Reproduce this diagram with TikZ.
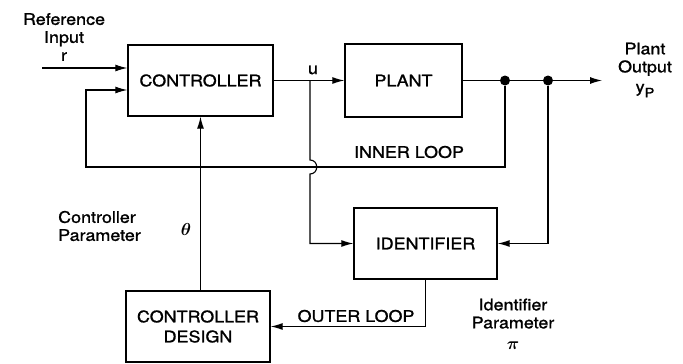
\documentclass[tikz,border=0pt]{standalone}
\usepackage{amsmath}
\usepackage{fontspec}
\setmainfont[FakeStretch=1.12, FakeBold=1.2]{TeX Gyre Heros}
\usepackage{tikz}
\usetikzlibrary{arrows.meta, calc}

\tikzset{
  block/.style={draw, line width=1.4pt, minimum height=71pt, inner sep=2pt,
    font=\fontsize{16}{20}\selectfont},
  sig/.style={line width=1.1pt, -{Latex[length=12pt,width=7pt]}},
  lbl/.style={font=\fontsize{16}{18}\selectfont, inner sep=1pt},
  junct/.style={circle, fill, inner sep=0pt, minimum size=10pt},
}

\begin{document}
\begin{tikzpicture}[x=1pt, y=-1pt]
    \useasboundingbox (0,0) rectangle (683,364);

    % Blocks
    \node[block, minimum width=145pt] (ctrl) at (200.5,80.5) {CONTROLLER};
    \node[block, minimum width=117pt, minimum height=73pt] (plant) at (403.5,80.5) {PLANT};
    \node[block, minimum width=143pt] (ident) at (425.5,243.5) {IDENTIFIER};
    \node[block, minimum width=144pt, align=center] (design) at (198,326.5) {CONTROLLER\\DESIGN};

    % Junctions and free ends
    \node[junct] (j1) at (505,80.5) {};
    \node[junct] (j2) at (548,80.5) {};
    \coordinate (yout) at (602,80.5);
    \coordinate (rin) at (42,68);
    \coordinate (fbin) at (86,90);
    \coordinate (fbl) at (86,167);
    \coordinate (ub) at (310,80.5);

    % Forward path
    \draw[sig] (rin) -- (rin -| ctrl.west);
    \draw[sig] (ctrl.east) -- (plant.west);
    \draw[sig] (plant.east) -- (yout);

    % Inner loop
    \draw[sig] (j1) |- (fbl) |- (fbin -| ctrl.west);

    % u to identifier, hopping over the inner loop
    \draw[sig] (ub) -- ($(ub |- fbl)+(0,-7)$)
        .. controls +(9,0) and +(9,0) .. ($(ub |- fbl)+(0,7)$) |- (ident.west);
    \draw[sig] (j2) |- (ident.east);

    % Outer loop
    \draw[sig] (ident.south) |- (design.east);
    \draw[sig] (design.north -| ctrl.south) -- (ctrl.south);

    % Labels
    \node[lbl, align=center] (refin) at (64,37) {Reference\\Input\\r};
    \node[lbl, align=center] (pout) at (645,70)
        {Plant\\Output\\[2pt]y\raisebox{-5pt}{\fontsize{13}{13}\selectfont P}};
    \node[lbl] (ulbl) at (313,70) {u};
    \node[lbl] (inner) at (409,152) {INNER LOOP};
    \node[lbl] (outer) at (356,316) {OUTER LOOP};
    \node[lbl, align=left, anchor=west] (cpar) at (57,226) {Controller\\Parameter};
    \node[lbl] (theta) at (186,229) {$\boldsymbol{\theta}$};
    \node[lbl, align=center] (ipar) at (513,324) {Identifier\\Parameter\\[3pt]$\boldsymbol{\pi}$};
\end{tikzpicture}
\end{document}
